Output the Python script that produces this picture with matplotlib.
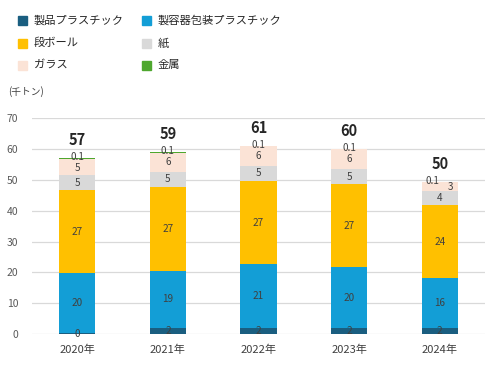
import numpy as np
import matplotlib
matplotlib.use('Agg')
from matplotlib import pyplot as plt
from matplotlib.patches import Rectangle

plt.rcParams['font.family'] = ['Noto Sans CJK JP', 'DejaVu Sans']

# Data (千トン)
years = ['2020年', '2021年', '2022年', '2023年', '2024年']
product_plastic = [0.2, 1.8, 1.9, 1.9, 1.9]
container_plastic = [19.6, 18.8, 20.7, 19.7, 16.2]
cardboard = [26.9, 27.2, 27.1, 27.1, 23.8]
paper = [4.9, 4.8, 4.8, 4.8, 4.5]
glass = [5.3, 6.2, 6.4, 6.4, 2.8]
metal = [0.1, 0.1, 0.1, 0.1, 0.1]
totals = [57, 59, 61, 60, 50]

series = [
    ('製品プラスチック', product_plastic, '#1A5E80'),
    ('製容器包装プラスチック', container_plastic, '#139ED6'),
    ('段ボール', cardboard, '#FFC000'),
    ('紙', paper, '#D9D9D9'),
    ('ガラス', glass, '#FBE3D6'),
    ('金属', metal, '#4EA72E'),
]

fig = plt.figure(figsize=(5, 3.7), dpi=100)
ax = fig.add_axes([0.064, 0.0973, 0.906, 0.583])

x = np.arange(len(years))
bottom = np.zeros(len(years))
txt = '#404040'
for name, vals, color in series:
    vals = np.array(vals)
    ax.bar(x, vals, 0.4, bottom=bottom, color=color, zorder=2)
    for i, v in enumerate(vals):
        mid = bottom[i] + v / 2
        dx, dy = 0, 0
        if name == '金属':
            lab = '0.1'
            dy = 1
            if i == 4:
                dx = -5
        else:
            lab = str(int(round(v)))
            if name == 'ガラス' and i == 4:
                dx = 8
            if name == 'ガラス' and i == 0:
                dy = -1
        ax.annotate(lab, (x[i], mid), xytext=(dx, dy), textcoords='offset points',
                    ha='center', va='center', fontsize=7.2, color=txt, zorder=3)
    bottom += vals

for i, t in enumerate(totals):
    ax.annotate(str(t), (x[i], bottom[i]), xytext=(0, 13), textcoords='offset points',
                ha='center', va='center', fontsize=10.5, fontweight='bold', color='#262626')

ax.set_xlim(-0.5, 4.5)
ax.set_ylim(0, 70)
ax.set_yticks(range(0, 71, 10))
ax.set_xticks(x)
ax.set_xticklabels(years)
ax.grid(axis='y', color='#D9D9D9', linewidth=0.9, zorder=0)
for s in ax.spines.values():
    s.set_visible(False)
ax.tick_params(axis='y', length=0, labelsize=7.5, labelcolor='#595959', pad=10)
ax.tick_params(axis='x', length=0, labelsize=8, labelcolor='#404040', pad=8)

fig.text(0.016, 0.752, '(千トン)', fontsize=7, color='#404040', va='center')

# legend, two columns
leg_x = [18, 142]
leg_y = [20, 43, 65]
for k, (name, vals, color) in enumerate(series):
    col = k % 2
    row = k // 2
    px, py = leg_x[col], leg_y[row]
    fig.patches.append(Rectangle((px / 500, 1 - (py + 4.5) / 370), 9 / 500, 9 / 370,
                                 transform=fig.transFigure, color=color))
    fig.text((px + 16) / 500, 1 - py / 370, name, fontsize=8.1, color='#262626',
             va='center', ha='left')

fig.savefig('out.png', dpi=100)
